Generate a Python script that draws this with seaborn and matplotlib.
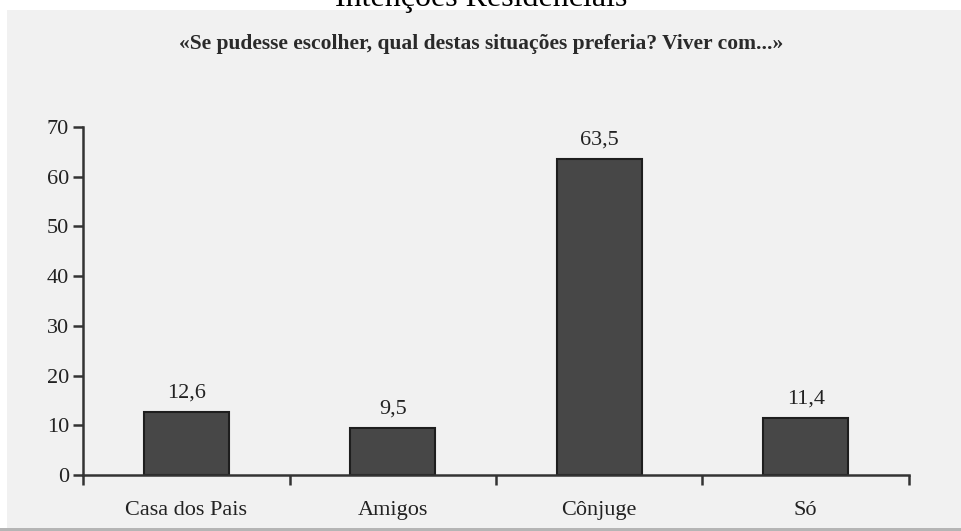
import matplotlib
matplotlib.use("Agg")
import matplotlib.pyplot as plt
import seaborn as sns
import pandas as pd
from matplotlib.patches import Rectangle

# --- Data ---
categories = ["Casa dos Pais", "Amigos", "Cônjuge", "Só"]
values = [12.6, 9.5, 63.5, 11.4]
value_labels = ["12,6", "9,5", "63,5", "11,4"]
y_ticks = [0, 10, 20, 30, 40, 50, 60, 70]

df = pd.DataFrame({"categoria": categories, "valor": values})

sns.set_style("white")
plt.rcParams["font.family"] = ["Liberation Serif", "DejaVu Serif"]

fig = plt.figure(figsize=(9.62, 5.31), dpi=100, facecolor="#f1f1f1")
# white strips of the scan (top and left margin)
fig.patches.append(Rectangle((0, 1 - 10 / 531), 1, 10 / 531, transform=fig.transFigure,
                             facecolor="white", edgecolor="none", zorder=-1))
fig.patches.append(Rectangle((0, 0), 7 / 962, 1, transform=fig.transFigure,
                             facecolor="white", edgecolor="none", zorder=-1))

ax = fig.add_axes([83 / 962, 1 - 475 / 531, (909 - 83) / 962, (475 - 127) / 531])
ax.set_facecolor("#f1f1f1")

sns.barplot(data=df, x="categoria", y="valor", color="#474747", width=0.41,
            edgecolor="#1e1e1e", linewidth=1.5, saturation=1, ax=ax)

for i, (v, lab) in enumerate(zip(values, value_labels)):
    ax.annotate(lab, (i, v), xytext=(0, 7), textcoords="offset points",
                ha="center", va="bottom", fontsize=16, color="#222222")

ax.set_xlim(-0.5, len(categories) - 0.5)
ax.set_ylim(0, 70)
ax.set_yticks(y_ticks)
ax.set_xlabel("")
ax.set_ylabel("")

# category boundaries as ticks on the x axis
ax.set_xticks([i - 0.5 for i in range(len(categories) + 1)], minor=True)
ax.tick_params(axis="x", which="major", bottom=False, length=0, pad=19,
               labelsize=16, colors="#222222")
ax.tick_params(axis="x", which="minor", bottom=True, length=7, width=1.8,
               color="#333333", direction="out")
ax.tick_params(axis="y", left=True, length=7, width=1.8, color="#333333", direction="out",
               labelsize=16, labelcolor="#222222", pad=3)

for side in ["top", "right"]:
    ax.spines[side].set_visible(False)
for side in ["left", "bottom"]:
    ax.spines[side].set_color("#333333")
    ax.spines[side].set_linewidth(1.8)

fig.text(0.5, 1 - 6 / 531, "Intenções Residenciais", ha="center", va="baseline",
         fontsize=23, color="black")
fig.text(0.5, 1 - 49 / 531, "«Se pudesse escolher, qual destas situações preferia? Viver com...»",
         ha="center", va="baseline", fontsize=15.5, fontweight="bold", color="#2a2a2a")

# bottom edge line of the scan
fig.patches.append(Rectangle((0, 0), 1, 3 / 531, transform=fig.transFigure,
                             facecolor="#b5b5b5", edgecolor="none"))

fig.savefig("out.png", dpi=100, facecolor=fig.get_facecolor())
